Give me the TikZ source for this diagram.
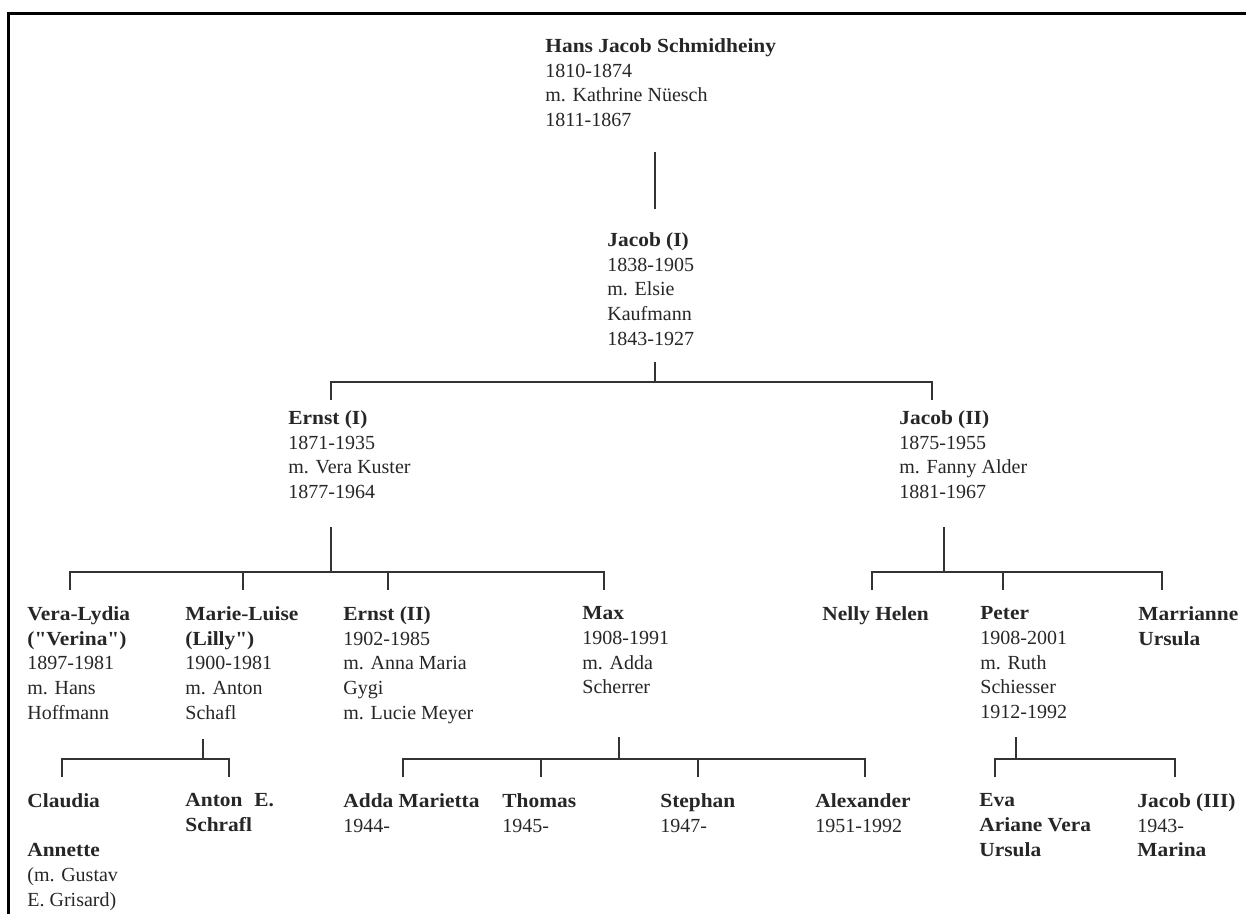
\documentclass[tikz,border=0pt]{standalone}
\usepackage{fontspec}
\setmainfont{Liberation Serif}[Ligatures=TeXOff, BoldFeatures={FakeStretch=1.07}]
\usetikzlibrary{calc}

\begin{document}
\begin{tikzpicture}
[x=0.5pt, y=-0.5pt,
pers/.style={anchor=north west, align=left, inner sep=0pt, text=black!85, font=\fontsize{10}{12.4}\selectfont},
link/.style={draw=black!80, line width=1pt},
frame/.style={draw=black, line width=1.5pt}]

	\useasboundingbox (0,0) rectangle (1246,914);
	\draw[frame] (8.5,914) -- (8.5,13.5) -- (1246,13.5);

	% generations 1 and 2
	\node[pers] (hans) at (545,38) {\textbf{Hans Jacob Schmidheiny}\\1810-1874\\m. Kathrine Nüesch\\1811-1867};
	\node[pers] (jacobi) at (607,232) {\textbf{Jacob (I)}\\1838-1905\\m. Elsie\\Kaufmann\\1843-1927};
	\node[pers] (ernsti) at (288,410) {\textbf{Ernst (I)}\\1871-1935\\m. Vera Kuster\\1877-1964};
	\node[pers] (jacobii) at (899,410) {\textbf{Jacob (II)}\\1875-1955\\m. Fanny Alder\\1881-1967};

	% generation 3
	\node[pers] (vera) at (27,606) {\textbf{Vera-Lydia}\\\textbf{("Verina")}\\1897-1981\\m. Hans\\Hoffmann};
	\node[pers] (marie) at (185,606) {\textbf{Marie-Luise}\\\textbf{(Lilly")}\\1900-1981\\m. Anton\\Schafl};
	\node[pers] (ernstii) at (343,606) {\textbf{Ernst (II)}\\1902-1985\\m. Anna Maria\\Gygi\\m. Lucie Meyer};
	\node[pers] (max) at (582,606) {\textbf{Max}\\1908-1991\\m. Adda\\Scherrer};
	\node[pers] (nelly) at (822,606) {\textbf{Nelly Helen}};
	\node[pers] (peter) at (980,606) {\textbf{Peter}\\1908-2001\\m. Ruth\\Schiesser\\1912-1992};
	\node[pers] (marri) at (1138,606) {\textbf{Marrianne}\\\textbf{Ursula}};

	% generation 4
	\node[pers] (claudia) at (27,793) {\textbf{Claudia}\\[12.4pt]\textbf{Annette}\\(m. Gustav\\E. Grisard)};
	\node[pers] (anton) at (185,793) {\textbf{Anton\hspace{0.6em}E.}\\\textbf{Schrafl}};
	\node[pers] (adda) at (343,793) {\textbf{Adda Marietta}\\1944-};
	\node[pers] (thomas) at (502,793) {\textbf{Thomas}\\1945-};
	\node[pers] (stephan) at (660,793) {\textbf{Stephan}\\1947-};
	\node[pers] (alex) at (815,793) {\textbf{Alexander}\\1951-1992};
	\node[pers] (eva) at (979,793) {\textbf{Eva}\\\textbf{Ariane Vera}\\\textbf{Ursula}};
	\node[pers] (jacobiii) at (1137,793) {\textbf{Jacob (III)}\\1943-\\\textbf{Marina}};

	% family bars
	\coordinate (hstem) at (655,152);
	\coordinate (jibar) at (655,382);
	\coordinate (eibar) at (331,572);
	\coordinate (jiibar) at (944,572);
	\coordinate (mlbar) at (203,759);
	\coordinate (mxbar) at (619,759);
	\coordinate (ptbar) at (1016,759);

	% drop points above the children
	\coordinate (ernstid) at ([xshift=21.5pt]ernsti.north west);
	\coordinate (jacobiid) at ([xshift=16.5pt]jacobii.north west);
	\coordinate (verad) at ([xshift=21.5pt]vera.north west);
	\coordinate (maried) at ([xshift=29pt]marie.north west);
	\coordinate (ernstiid) at ([xshift=22.5pt]ernstii.north west);
	\coordinate (maxd) at ([xshift=11pt]max.north west);
	\coordinate (nellyd) at ([xshift=25pt]nelly.north west);
	\coordinate (peterd) at ([xshift=11.5pt]peter.north west);
	\coordinate (marrid) at ([xshift=12pt]marri.north west);
	\coordinate (claudiad) at ([xshift=17.5pt]claudia.north west);
	\coordinate (antond) at ([xshift=22pt]anton.north west);
	\coordinate (addad) at ([xshift=30pt]adda.north west);
	\coordinate (thomasd) at ([xshift=19.5pt]thomas.north west);
	\coordinate (stephand) at ([xshift=19pt]stephan.north west);
	\coordinate (alexd) at ([xshift=25pt]alex.north west);
	\coordinate (evad) at ([xshift=8pt]eva.north west);
	\coordinate (jacobiiid) at ([xshift=19pt]jacobiii.north west);

	% Hans Jacob -> Jacob (I)
	\draw[link, shorten >=11.5pt] (hstem) -- (hstem |- jacobi.north);

	% Jacob (I) -> Ernst (I), Jacob (II)
	\draw[link] (jibar) -- ++(0,-20);
	\draw[link, shorten <=5pt, shorten >=5pt] (ernstid) |- (jibar) -| (jacobiid);

	% Ernst (I)
	\draw[link] (eibar) -- ++(0,-45);
	\draw[link, shorten <=8pt, shorten >=8pt] (verad) |- (eibar) -| (maxd);
	\draw[link, shorten <=8pt] (maried) -- (maried |- eibar);
	\draw[link, shorten <=8pt] (ernstiid) -- (ernstiid |- eibar);

	% Jacob (II)
	\draw[link] (jiibar) -- ++(0,-45);
	\draw[link, shorten <=8pt, shorten >=8pt] (nellyd) |- (jiibar) -| (marrid);
	\draw[link, shorten <=8pt] (peterd) -- (peterd |- jiibar);

	% Marie-Luise
	\draw[link] (mlbar) -- ++(0,-20);
	\draw[link, shorten <=8pt, shorten >=8pt] (claudiad) |- (mlbar) -| (antond);

	% Max
	\draw[link] (mxbar) -- ++(0,-22);
	\draw[link, shorten <=8pt, shorten >=8pt] (addad) |- (mxbar) -| (alexd);
	\draw[link, shorten <=8pt] (thomasd) -- (thomasd |- mxbar);
	\draw[link, shorten <=8pt] (stephand) -- (stephand |- mxbar);

	% Peter
	\draw[link] (ptbar) -- ++(0,-22);
	\draw[link, shorten <=8pt, shorten >=8pt] (evad) |- (ptbar) -| (jacobiiid);

\end{tikzpicture}
\end{document}
